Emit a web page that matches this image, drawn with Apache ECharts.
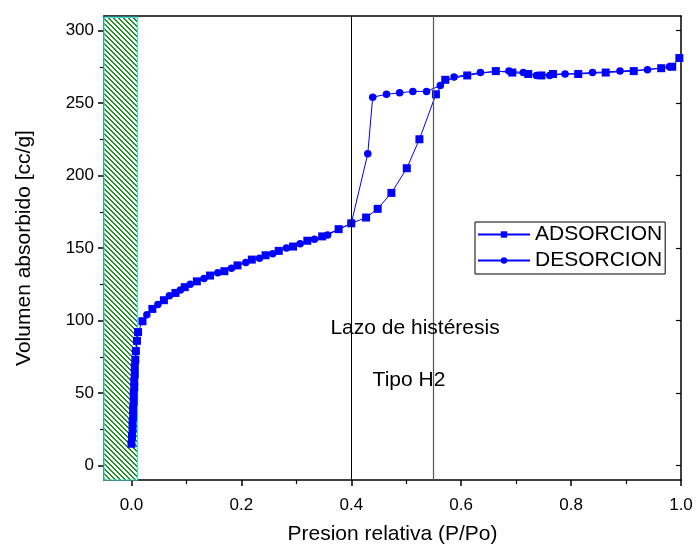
<!DOCTYPE html>
<html>
<head>
<meta charset="utf-8">
<script src="https://cdn.jsdelivr.net/npm/echarts@6/dist/echarts.min.js"></script>
<style>html,body{margin:0;padding:0;background:#fff}#chart{width:696px;height:550px}</style>
</head>
<body>
<div id="chart"></div>
<script>
// ---- data ----
const adsorcionX = [0.000,0.001,0.002,0.002,0.003,0.003,0.004,0.004,0.005,0.005,0.006,0.006,0.007,0.008,0.010,0.012,
  0.020,0.038,0.059,0.080,0.097,0.119,0.143,0.169,0.193,0.219,0.244,0.268,0.294,0.320,0.347,0.377,0.400,
  0.427,0.448,0.473,0.501,0.524,0.554,
  0.571,0.611,0.663,0.693,0.722,0.746,0.767,0.813,0.863,0.914,0.964,0.984,0.997];
const adsorcionY = [15,20,25,30,34,39,44,49,54,58,63,68,73,79,86,92,
  99.5,108,114,119,123,127,131,134,138,142,145,148,151,155,158,163,167,
  171,177,188,205,225,256,
  266,269,272,271,270,269,270,270,271,272,274,275,281];
const desorcionX = [0.979,0.939,0.889,0.839,0.789,0.761,0.737,0.713,0.687,0.635,0.587,0.562,
  0.537,0.512,0.488,0.464,0.439,0.430,0.400,
  0.357,0.333,0.307,0.282,0.257,0.233,0.208,0.182,0.157,0.132,0.107,0.089,0.069,0.048,0.028];
const desorcionY = [275,273,272,271,270,269,269,271,272,271,268,262,
  258,258,257,256,254,215,167,
  159,156,153,150,146,143,140,136,133,129,125,121,117,111,104];
const xTicks = [0.0,0.2,0.4,0.6,0.8,1.0];
const xMinorTicks = [0.1,0.3,0.5,0.7,0.9];
const yTicks = [0,50,100,150,200,250,300];
const yMinorTicks = [25,75,125,175,225,275];
const hatchRange = [-0.05, 0.011];
const hysteresisRange = [0.40, 0.553];
const legendNames = ['ADSORCION','DESORCION'];
const annotations = [{text:'Lazo de histéresis', x:0.516, y:95},{text:'Tipo H2', x:0.505, y:58.5}];
const xRange = [-0.05, 1.0];
const yRange = [-10, 310];

// ---- hatch pattern ----
const P = 5;
const pat = document.createElement('canvas');
pat.width = P; pat.height = P;
const pctx = pat.getContext('2d');
pctx.fillStyle = '#ffffff'; pctx.fillRect(0,0,P,P);
pctx.fillStyle = '#1f8f1f';
for (let i = 0; i < P; i++) { pctx.fillRect(i, i, 1, 1); pctx.fillRect((i+1)%P, i, 1, 1); }

const zip = (xs, ys) => xs.map((x, i) => [x, ys[i]]);
const font = 'Liberation Sans, Arial, sans-serif';
const axisCol = '#000';

const chart = echarts.init(document.getElementById('chart'), null, {renderer:'canvas'});
const option = {
  animation: false,
  backgroundColor: '#fff',
  textStyle: {fontFamily: font},
  grid: {left:104, right:15, top:16, bottom:67, containLabel:false},
  legend: {
    data: legendNames,
    orient: 'vertical',
    left: 475, top: 222,
    itemWidth: 52, itemHeight: 8, itemGap: 5,
    padding: [2, 3, 3, 2],
    borderColor: '#000', borderWidth: 1,
    backgroundColor: '#fff',
    textStyle: {fontSize: 21, color: '#000', fontFamily: font}
  },
  xAxis: [
    {type:'value', min:xRange[0], max:xRange[1], position:'bottom',
     name:'Presion relativa (P/Po)', nameLocation:'middle', nameGap:44,
     nameTextStyle:{fontSize:21, color:'#000', fontFamily:font},
     axisLine:{show:true, onZero:false, lineStyle:{color:axisCol, width:1.5}},
     axisTick:{show:true, customValues:xTicks, length:6, lineStyle:{color:axisCol, width:1.5}},
     axisLabel:{customValues:xTicks, formatter:v=>v.toFixed(1), fontSize:17, color:'#000', margin:17, fontFamily:font},
     splitLine:{show:false}},
    {type:'value', min:xRange[0], max:xRange[1], position:'bottom',
     axisLine:{show:false, onZero:false},
     axisTick:{show:true, customValues:xMinorTicks, length:4, lineStyle:{color:axisCol, width:1.2}},
     axisLabel:{show:false}, splitLine:{show:false}},
    {type:'value', min:xRange[0], max:xRange[1], position:'top',
     axisLine:{show:true, onZero:false, lineStyle:{color:axisCol, width:1.5}},
     axisTick:{show:false},
     axisLabel:{show:false}, splitLine:{show:false}}
  ],
  yAxis: [
    {type:'value', min:yRange[0], max:yRange[1], position:'left',
     name:'Volumen absorbido [cc/g]', nameLocation:'middle', nameGap:69,
     nameTextStyle:{fontSize:21, color:'#000', fontFamily:font},
     axisLine:{show:true, onZero:false, lineStyle:{color:axisCol, width:1.5}},
     axisTick:{show:true, customValues:yTicks, length:6, lineStyle:{color:axisCol, width:1.5}},
     axisLabel:{customValues:yTicks, fontSize:17, color:'#000', margin:10, fontFamily:font},
     splitLine:{show:false}},
    {type:'value', min:yRange[0], max:yRange[1], position:'left',
     axisLine:{show:false, onZero:false},
     axisTick:{show:true, customValues:yMinorTicks, length:4, lineStyle:{color:axisCol, width:1.2}},
     axisLabel:{show:false}, splitLine:{show:false}},
    {type:'value', min:yRange[0], max:yRange[1], position:'right',
     axisLine:{show:true, onZero:false, lineStyle:{color:axisCol, width:1.5}},
     axisTick:{show:true, inside:true, customValues:yTicks, length:5, lineStyle:{color:axisCol, width:1.2}},
     axisLabel:{show:false}, splitLine:{show:false}}
  ],
  series: [
    {
      name: legendNames[0], type:'line', data: zip(adsorcionX, adsorcionY),
      symbol:'rect', symbolSize:8, showAllSymbol:true,
      lineStyle:{color:'#0000ff', width:1}, itemStyle:{color:'#0000ff'},
      z: 3,
      markArea: {
        silent: true, z: 1,
        label:{show:false},
        data: [
          [{xAxis:hatchRange[0], yAxis:yRange[0], itemStyle:{color:{image:pat, repeat:'repeat'}, borderColor:'#3de0e0', borderWidth:1.2}},
           {xAxis:hatchRange[1], yAxis:309}]
        ]
      },
      markLine: {
        silent:true, symbol:'none', label:{show:false},
        data: [
          {xAxis:hysteresisRange[0], lineStyle:{color:'#000', width:1, type:'solid'}},
          {xAxis:hysteresisRange[1], lineStyle:{color:'#555', width:1.2, type:'solid'}}
        ]
      },
      markPoint: {
        silent:true, symbol:'circle', symbolSize:0,
        itemStyle:{color:'rgba(0,0,0,0)'},
        label:{show:true, position:'inside', color:'#000', fontSize:21, fontFamily:font, formatter:p=>p.name},
        data: annotations.map(a => ({name:a.text, coord:[a.x, a.y]}))
      }
    },
    {
      name: legendNames[1], type:'line', data: zip(desorcionX, desorcionY),
      symbol:'circle', symbolSize:7.5, showAllSymbol:true,
      lineStyle:{color:'#0000ff', width:1}, itemStyle:{color:'#0000ff'},
      z: 3
    }
  ]
};
chart.setOption(option);
</script>
</body>
</html>
